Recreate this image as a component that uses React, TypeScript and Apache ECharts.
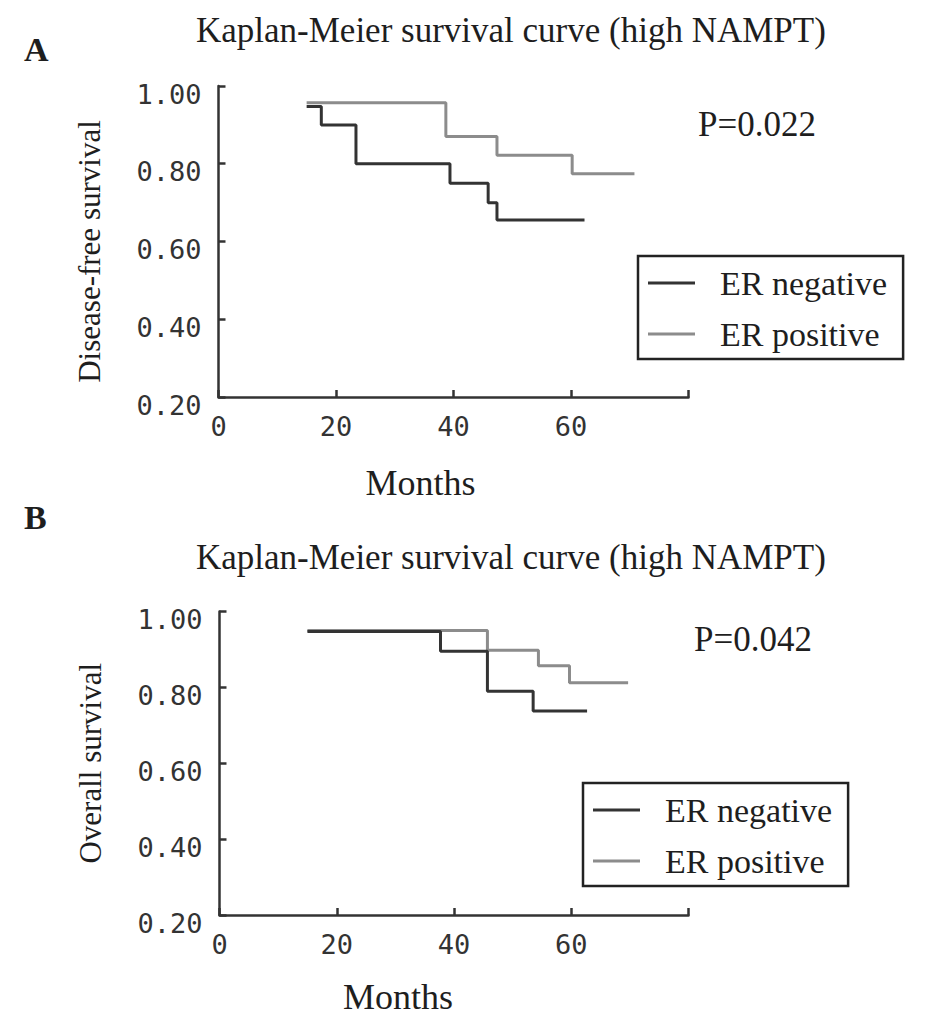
import React, { useEffect, useRef } from "react";
import * as echarts from "echarts";

// ---- Data ----
const panelTitle = "Kaplan-Meier survival curve (high NAMPT)";
const seriesNames = ["ER negative", "ER positive"];
const xTicks = [0, 20, 40, 60, 80];
const yTicks = [0.2, 0.4, 0.6, 0.8, 1.0];

// Panel A: disease-free survival
const monthsA_neg = [15, 17.5, 23.4, 39.4, 45.9, 47.4, 62.3];
const survA_neg = [0.947, 0.9, 0.8, 0.75, 0.7, 0.655, 0.655];
const monthsA_pos = [15, 38.7, 47.4, 60.2, 70.8];
const survA_pos = [0.957, 0.87, 0.822, 0.774, 0.774];
const pValueA = "P=0.022";

// Panel B: overall survival
const monthsB_neg = [15, 37.7, 45.7, 53.5, 62.7];
const survB_neg = [0.947, 0.895, 0.79, 0.738, 0.738];
const monthsB_pos = [15, 45.7, 54.4, 59.7, 69.7];
const survB_pos = [0.95, 0.898, 0.857, 0.812, 0.812];
const pValueB = "P=0.042";

const SERIF = '"Liberation Serif", "Times New Roman", serif';
const MONO = '"DejaVu Sans Mono", "Liberation Mono", monospace';
const DARK = "#333333";
const GRAY = "#8c8c8c";
const TEXT = "#1e1e1e";

const zip = (xs: number[], ys: number[]) => xs.map((x, i) => [x, ys[i]]);

function App() {
  const ref = useRef<HTMLDivElement>(null);

  useEffect(() => {
    document.body.style.margin = "0";
    if (!ref.current) return;
    const chart = echarts.init(ref.current, null, { renderer: "svg" });

    const xAxisBase = (gridIndex: number, namePadRight: number, nameGap: number) => ({
      type: "value",
      gridIndex,
      min: xTicks[0],
      max: xTicks[xTicks.length - 1],
      interval: 20,
      name: "Months",
      nameLocation: "middle",
      nameGap,
      nameTextStyle: {
        fontFamily: SERIF,
        fontSize: 36,
        color: TEXT,
        padding: [0, namePadRight, 0, 0],
      },
      axisLine: { show: true, lineStyle: { color: DARK, width: 2.5 } },
      axisTick: { show: true, inside: true, length: 7, lineStyle: { color: DARK, width: 2.5 } },
      axisLabel: {
        margin: 16,
        fontFamily: MONO,
        fontSize: 27,
        color: DARK,
        formatter: (v: number) => (v === 80 ? "" : String(v)),
      },
      splitLine: { show: false },
    });

    const yAxisBase = (gridIndex: number, name: string, namePadRight: number) => ({
      type: "value",
      gridIndex,
      min: yTicks[0],
      max: yTicks[yTicks.length - 1],
      interval: 0.2,
      name,
      nameLocation: "middle",
      nameRotate: 90,
      nameGap: 114,
      nameTextStyle: {
        fontFamily: SERIF,
        fontSize: 31,
        color: TEXT,
        padding: [0, namePadRight, 0, 0],
      },
      axisLine: { show: true, lineStyle: { color: DARK, width: 2.5 } },
      axisTick: { show: true, inside: true, length: 7, lineStyle: { color: DARK, width: 2.5 } },
      axisLabel: {
        margin: 17,
        fontFamily: MONO,
        fontSize: 27,
        color: DARK,
        verticalAlign: "top",
        lineHeight: 16,
        formatter: (v: number) => v.toFixed(2),
      },
      splitLine: { show: false },
    });

    const lineSeries = (
      name: string,
      data: number[][],
      color: string,
      idx: number,
      z: number
    ) => ({
      name,
      type: "line",
      step: "end",
      xAxisIndex: idx,
      yAxisIndex: idx,
      data,
      symbol: "none",
      z,
      lineStyle: { color, width: 3 },
      itemStyle: { color },
    });

    const legendBase = (left: number, top: number) => ({
      left,
      top,
      orient: "vertical",
      data: seriesNames,
      icon: "rect",
      borderColor: "#222",
      borderWidth: 2.5,
      padding: [10, 16, 8, 10],
      itemWidth: 47,
      itemHeight: 3,
      itemGap: 17,
      selectedMode: false,
      textStyle: {
        fontFamily: SERIF,
        fontSize: 34,
        color: TEXT,
        padding: [0, 0, 0, 20],
      },
    });

    chart.setOption({
      animation: false,
      backgroundColor: "#ffffff",
      title: [
        {
          text: panelTitle,
          left: 196,
          top: 13,
          padding: 0,
          textStyle: { fontFamily: SERIF, fontSize: 35, fontWeight: "normal", color: TEXT },
        },
        {
          text: panelTitle,
          left: 196,
          top: 540,
          padding: 0,
          textStyle: { fontFamily: SERIF, fontSize: 35, fontWeight: "normal", color: TEXT },
        },
      ],
      grid: [
        { left: 218.5, top: 86, width: 470, height: 311 },
        { left: 219.5, top: 611.5, width: 469, height: 303.5 },
      ],
      xAxis: [xAxisBase(0, 66, 68), xAxisBase(1, 112, 64)],
      yAxis: [
        yAxisBase(0, "Disease-free survival", 20),
        yAxisBase(1, "Overall survival", 0),
      ],
      legend: [legendBase(638, 256), legendBase(583, 783)],
      series: [
        lineSeries(seriesNames[0], zip(monthsA_neg, survA_neg), DARK, 0, 3),
        lineSeries(seriesNames[1], zip(monthsA_pos, survA_pos), GRAY, 0, 2),
        lineSeries(seriesNames[0], zip(monthsB_neg, survB_neg), DARK, 1, 3),
        lineSeries(seriesNames[1], zip(monthsB_pos, survB_pos), GRAY, 1, 2),
      ],
      graphic: [
        {
          type: "text",
          left: 24,
          top: 32,
          style: { text: "A", fontFamily: SERIF, fontSize: 34, fontWeight: "bold", fill: TEXT },
        },
        {
          type: "text",
          left: 24,
          top: 500,
          style: { text: "B", fontFamily: SERIF, fontSize: 34, fontWeight: "bold", fill: TEXT },
        },
        {
          type: "text",
          left: 698,
          top: 107,
          style: { text: pValueA, fontFamily: SERIF, fontSize: 35, fill: TEXT },
        },
        {
          type: "text",
          left: 694,
          top: 622,
          style: { text: pValueB, fontFamily: SERIF, fontSize: 35, fill: TEXT },
        },
      ],
    });

    return () => {
      chart.dispose();
    };
  }, []);

  return <div ref={ref} style={{ width: 927, height: 1031 }} />;
}

export default App;
